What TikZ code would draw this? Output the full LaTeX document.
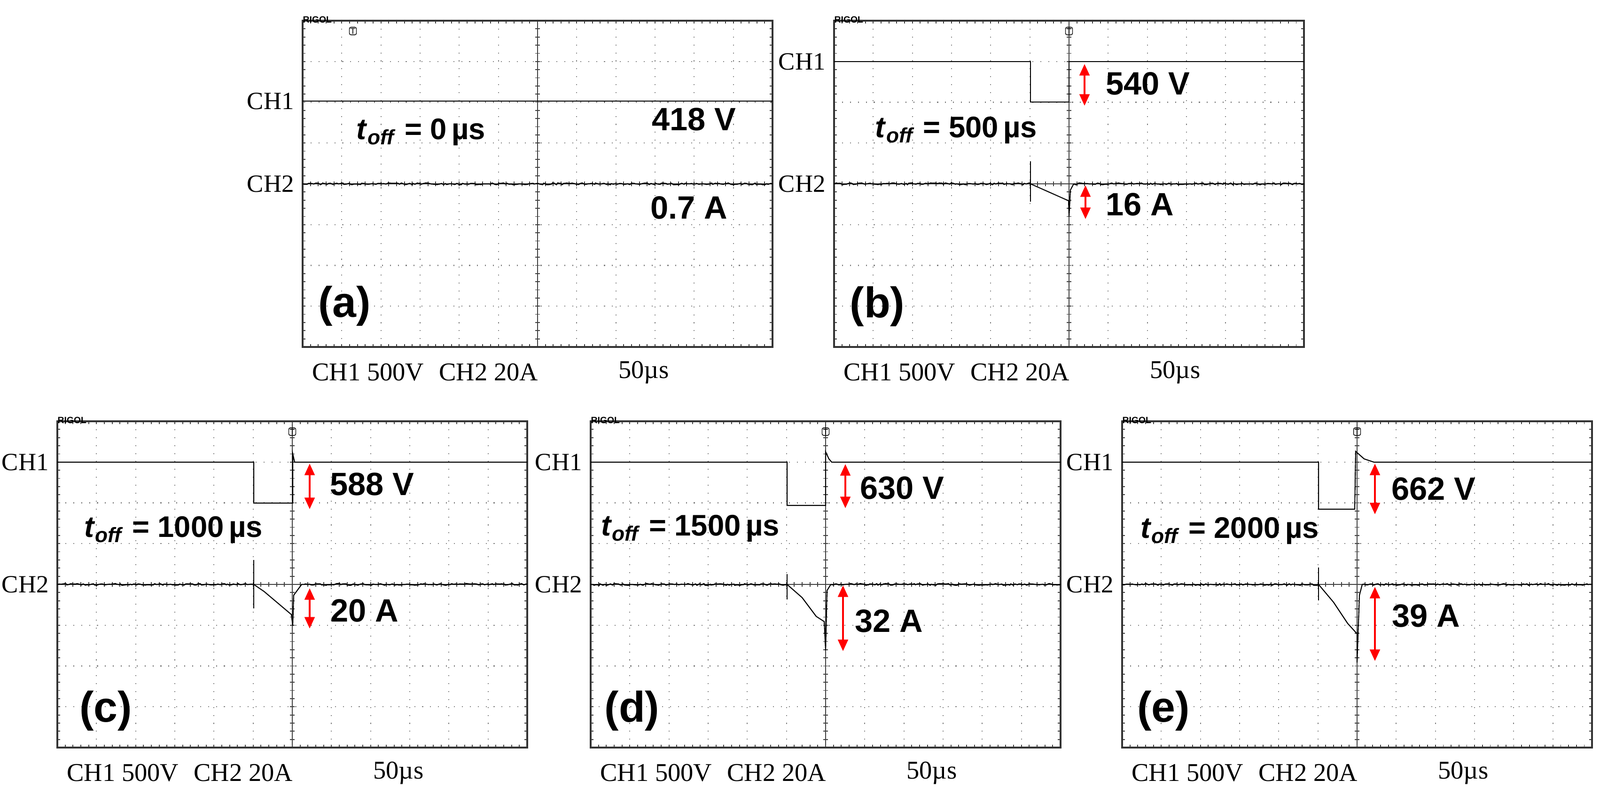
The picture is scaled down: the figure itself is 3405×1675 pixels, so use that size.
\documentclass[tikz,border=0pt]{standalone}
\usepackage{fontspec}
\setmainfont{Liberation Serif}
\newfontfamily\arial{Liberation Sans}
\usetikzlibrary{arrows.meta, decorations.pathmorphing}

\tikzset{
  frame/.style={line width=0.9pt, black!80},
  axis/.style={line width=0.5pt, black!75},
  griddot/.style={line width=0.6pt, gray, dash pattern=on 0.6pt off 4.2pt},
  trace/.style={line width=0.6pt, black},
  noisy/.style={line width=0.7pt, black, decorate,
    decoration={random steps, segment length=1.2pt, amplitude=0.5pt}},
  span/.style={red, line width=1.3pt, {Triangle[length=7pt,width=6pt]}-{Triangle[length=7pt,width=6pt]}},
  chlab/.style={anchor=east, font=\fontsize{15}{15}\selectfont},
  setting/.style={anchor=west, font=\fontsize{15.5}{16}\selectfont},
  value/.style={font=\arial\bfseries\fontsize{19.5}{20}\selectfont},
  toff/.style={font=\arial\bfseries\fontsize{18}{20}\selectfont},
  tag/.style={font=\arial\bfseries\fontsize{26}{26}\selectfont},
  brand/.style={anchor=south west, inner sep=0pt, font=\arial\bfseries\fontsize{5.5}{6}\selectfont},
  trig/.style={draw, rounded corners=1pt, inner sep=0.6pt, font=\arial\fontsize{5}{5}\selectfont}
}

% screen: dotted grid, centre axes with minor ticks, frame
\newcommand{\screengrid}{%
  \foreach \i in {1,...,11} \draw[griddot] (\i*83.333,0) -- (\i*83.333,694);
  \foreach \j in {1,...,7} \draw[griddot] (0,\j*86.75) -- (1000,\j*86.75);
  \draw[axis] (500,0) -- (500,694);
  \draw[axis] (0,347) -- (1000,347);
  \foreach \k in {1,...,59} {
    \draw[axis] (\k*16.667,0) -- ++(0,6);
    \draw[axis] (\k*16.667,694) -- ++(0,-6);
    \draw[axis] (\k*16.667,342) -- ++(0,10);
  }
  \foreach \k in {1,...,39} {
    \draw[axis] (0,\k*17.35) -- ++(6,0);
    \draw[axis] (1000,\k*17.35) -- ++(-6,0);
    \draw[axis] (495,\k*17.35) -- ++(10,0);
  }
  \draw[frame] (0,0) rectangle (1000,694);
  \node[brand] at (0,5) {RIGOL};
  \node[setting] at (8,748) {CH1 500V};
  \node[setting] at (278,748) {CH2 20A};
  \node[setting] at (660,748) {50µs};
}

\begin{document}
\begin{tikzpicture}[x=0.01cm, y=-0.01cm]
  \useasboundingbox (0,0) rectangle (3405,1675);

  % (a) toff = 0
  \begin{scope}[shift={(644,44)}]
    \screengrid
    \node[trig] (a-trig) at (107,22) {T};
    \node[chlab] (a-ch1) at (-6,171) {CH1};
    \node[chlab] (a-ch2) at (-6,347) {CH2};
    \draw[trace] (0,171) -- (1000,171);
    \draw[noisy] (0,347) -- (1000,347);
    \node[toff] (a-toff) at (252,237) {\textit{t}\textsubscript{\textit{off}} = 0\,µs};
    \node[value] (a-volt) at (833,210) {418 V};
    \node[value] (a-amp) at (822,398) {0.7 A};
    \node[tag] (a-tag) at (89,607) {(a)};
  \end{scope}

  % (b) toff = 500
  \begin{scope}[shift={(1775,44)}]
    \screengrid
    \node[trig] (b-trig) at (500,22) {T};
    \node[chlab] (b-ch1) at (-6,87) {CH1};
    \node[chlab] (b-ch2) at (-6,347) {CH2};
    \draw[trace] (0,87) -- (418,87) -- (418,173) -- (500,173) -- (500,87) -- (1000,87);
    \draw[noisy] (0,347) -- (418,347);
    \draw[trace] (418,299) -- (418,385);
    \draw[trace] (418,347) -- (499,383) -- (500,417) -- (503,360) -- (510,347);
    \draw[noisy] (510,347) -- (1000,347);
    \coordinate (b-v1) at (533,92);  \coordinate (b-v2) at (533,181);
    \coordinate (b-i1) at (535,350); \coordinate (b-i2) at (535,422);
    \draw[span] (b-v1) -- (b-v2);
    \draw[span] (b-i1) -- (b-i2);
    \node[toff] (b-toff) at (260,233) {\textit{t}\textsubscript{\textit{off}} = 500\,µs};
    \node[value] (b-volt) at (668,134) {540 V};
    \node[value] (b-amp) at (651,391) {16 A};
    \node[tag] (b-tag) at (92,608) {(b)};
  \end{scope}

  % (c) toff = 1000
  \begin{scope}[shift={(122,896)}]
    \screengrid
    \node[trig] (c-trig) at (500,22) {T};
    \node[chlab] (c-ch1) at (-6,87) {CH1};
    \node[chlab] (c-ch2) at (-6,347) {CH2};
    \draw[trace] (0,87) -- (418,87) -- (418,174) -- (501,174) -- (501,69) -- (505,87) -- (1000,87);
    \draw[noisy] (0,347) -- (418,347);
    \draw[trace] (418,295) -- (418,398);
    \draw[trace] (418,347) -- (440,362) -- (498,411) -- (501,435) -- (503,370) -- (520,347);
    \draw[noisy] (520,347) -- (1000,347);
    \coordinate (c-v1) at (537,90);  \coordinate (c-v2) at (537,187);
    \coordinate (c-i1) at (537,355); \coordinate (c-i2) at (537,441);
    \draw[span] (c-v1) -- (c-v2);
    \draw[span] (c-i1) -- (c-i2);
    \node[toff] (c-toff) at (247,231) {\textit{t}\textsubscript{\textit{off}} = 1000\,µs};
    \node[value] (c-volt) at (670,134) {588 V};
    \node[value] (c-amp) at (654,403) {20 A};
    \node[tag] (c-tag) at (103,616) {(c)};
  \end{scope}

  % (d) toff = 1500
  \begin{scope}[shift={(1257,896)}]
    \screengrid
    \node[trig] (d-trig) at (500,22) {T};
    \node[chlab] (d-ch1) at (-6,87) {CH1};
    \node[chlab] (d-ch2) at (-6,347) {CH2};
    \draw[trace] (0,87) -- (418,87) -- (418,179) -- (500,179) -- (500,65) -- (507,80) -- (513,87) -- (1000,87);
    \draw[noisy] (0,347) -- (418,347);
    \draw[trace] (418,325) -- (418,379);
    \draw[trace] (418,347) -- (450,375) -- (480,415) -- (497,426) -- (500,487) -- (503,360) -- (511,347);
    \draw[noisy] (511,347) -- (1000,347);
    \coordinate (d-v1) at (542,91);  \coordinate (d-v2) at (542,185);
    \coordinate (d-i1) at (537,349); \coordinate (d-i2) at (537,489);
    \draw[span] (d-v1) -- (d-v2);
    \draw[span] (d-i1) -- (d-i2);
    \node[toff] (d-toff) at (212,228) {\textit{t}\textsubscript{\textit{off}} = 1500\,µs};
    \node[value] (d-volt) at (663,142) {630 V};
    \node[value] (d-amp) at (635,425) {32 A};
    \node[tag] (d-tag) at (88,616) {(d)};
  \end{scope}

  % (e) toff = 2000
  \begin{scope}[shift={(2388,896)}]
    \screengrid
    \node[trig] (e-trig) at (500,22) {T};
    \node[chlab] (e-ch1) at (-6,87) {CH1};
    \node[chlab] (e-ch2) at (-6,347) {CH2};
    \draw[trace] (0,87) -- (418,87) -- (418,187) -- (495,187) -- (497,64) -- (515,80) -- (536,87) -- (1000,87);
    \draw[noisy] (0,347) -- (418,347);
    \draw[trace] (418,311) -- (418,381);
    \draw[trace] (418,347) -- (450,385) -- (480,430) -- (500,452) -- (500,513) -- (505,370) -- (511,347);
    \draw[noisy] (511,347) -- (1000,347);
    \coordinate (e-v1) at (538,90);  \coordinate (e-v2) at (538,198);
    \coordinate (e-i1) at (538,352); \coordinate (e-i2) at (538,510);
    \draw[span] (e-v1) -- (e-v2);
    \draw[span] (e-i1) -- (e-i2);
    \node[toff] (e-toff) at (229,233) {\textit{t}\textsubscript{\textit{off}} = 2000\,µs};
    \node[value] (e-volt) at (663,144) {662 V};
    \node[value] (e-amp) at (647,414) {39 A};
    \node[tag] (e-tag) at (88,616) {(e)};
  \end{scope}
\end{tikzpicture}
\end{document}
